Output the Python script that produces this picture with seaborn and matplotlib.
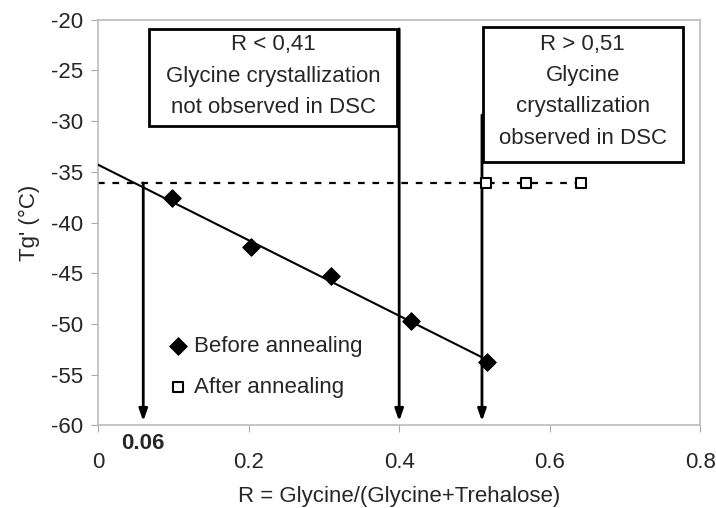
import numpy as np
import pandas as pd
import seaborn as sns
import matplotlib.pyplot as plt

# Data
r_before = [0.098, 0.203, 0.310, 0.416, 0.517]
tg_before = [-37.6, -42.4, -45.3, -49.7, -53.8]
r_after = [0.516, 0.569, 0.641]
tg_after = [-36.1, -36.1, -36.1]
fit_r = [0.0, 0.51]
fit_tg = [-34.3, -53.3]
tg_level = -36.1
arrow_r = [0.06, 0.40, 0.51]
arrow_top = [-36.1, -20.9, -29.4]
box1_lines = ["R < 0,41", "Glycine crystallization", "not observed in DSC"]
box2_lines = ["R > 0,51", "Glycine", "crystallization", "observed in DSC"]

sns.set_style("white")
plt.rcParams['font.family'] = ['Liberation Sans', 'DejaVu Sans']
plt.rcParams['axes.unicode_minus'] = False

fig, ax = plt.subplots(figsize=(7.16, 5.08), dpi=100)
fig.subplots_adjust(left=0.137, right=0.978, top=0.961, bottom=0.163)

before = pd.DataFrame({"R": r_before, "Tg": tg_before})
after = pd.DataFrame({"R": r_after, "Tg": tg_after})

# fitted line and dotted level
ax.plot(fit_r, fit_tg, color="black", lw=1.5, zorder=3)
ax.plot([0, r_after[-1]], [tg_level, tg_level], color="black", lw=1.6,
        linestyle=(0, (3, 3.5)), zorder=2)

sns.scatterplot(data=before, x="R", y="Tg", marker="D", s=80, color="black",
                edgecolor="black", ax=ax, label="Before annealing", zorder=5)
sns.scatterplot(data=after, x="R", y="Tg", marker="s", s=55, facecolor="white",
                edgecolor="black", linewidth=1.5, ax=ax, label="After annealing", zorder=5)

# arrows down to the axis
for xr, yt in zip(arrow_r, arrow_top):
    ax.annotate("", xy=(xr, -59.6), xytext=(xr, yt),
                arrowprops=dict(arrowstyle="-|>,head_length=0.7,head_width=0.25",
                                color="black", lw=2, shrinkA=0, shrinkB=0),
                zorder=4)

# text boxes
ax.add_patch(plt.Rectangle((0.068, -30.5), 0.329, 9.6, fill=True, facecolor="white",
                           edgecolor="black", lw=2, zorder=6))
ax.add_patch(plt.Rectangle((0.512, -34.0), 0.265, 13.3, fill=True, facecolor="white",
                           edgecolor="black", lw=2, zorder=6))
for i, t in enumerate(box1_lines):
    ax.text(0.233, -22.4 - i * 3.15, t, ha="center", va="center", fontsize=16, zorder=7)
for i, t in enumerate(box2_lines):
    ax.text(0.644, -22.4 - i * 3.1, t, ha="center", va="center", fontsize=16, zorder=7)

ax.text(0.06, -61.8, "0.06", ha="center", va="center", fontsize=16,
        fontweight="bold")

ax.set_xlim(0, 0.8)
ax.set_ylim(-60, -20)
ax.set_xticks([0, 0.2, 0.4, 0.6, 0.8])
ax.set_xticklabels(["0", "0.2", "0.4", "0.6", "0.8"])
ax.set_yticks(np.arange(-60, -19, 5))
ax.tick_params(labelsize=16, length=5, color="#aaaaaa", direction="out",
               bottom=True, left=True)
ax.tick_params(axis="x", pad=14)
ax.tick_params(axis="y", pad=6)
ax.set_xlabel("R = Glycine/(Glycine+Trehalose)", fontsize=16, labelpad=10)
ax.set_ylabel("Tg' (°C)", fontsize=16, labelpad=8)
for s in ax.spines.values():
    s.set_color("#bbbbbb")
    s.set_linewidth(1.2)

ax.legend(loc="upper left", bbox_to_anchor=(0.085, 0.258), frameon=False,
          fontsize=16, handletextpad=0.1, labelspacing=0.89, borderpad=0.2,
          handlelength=1.2)

fig.savefig("out.png", dpi=100)
